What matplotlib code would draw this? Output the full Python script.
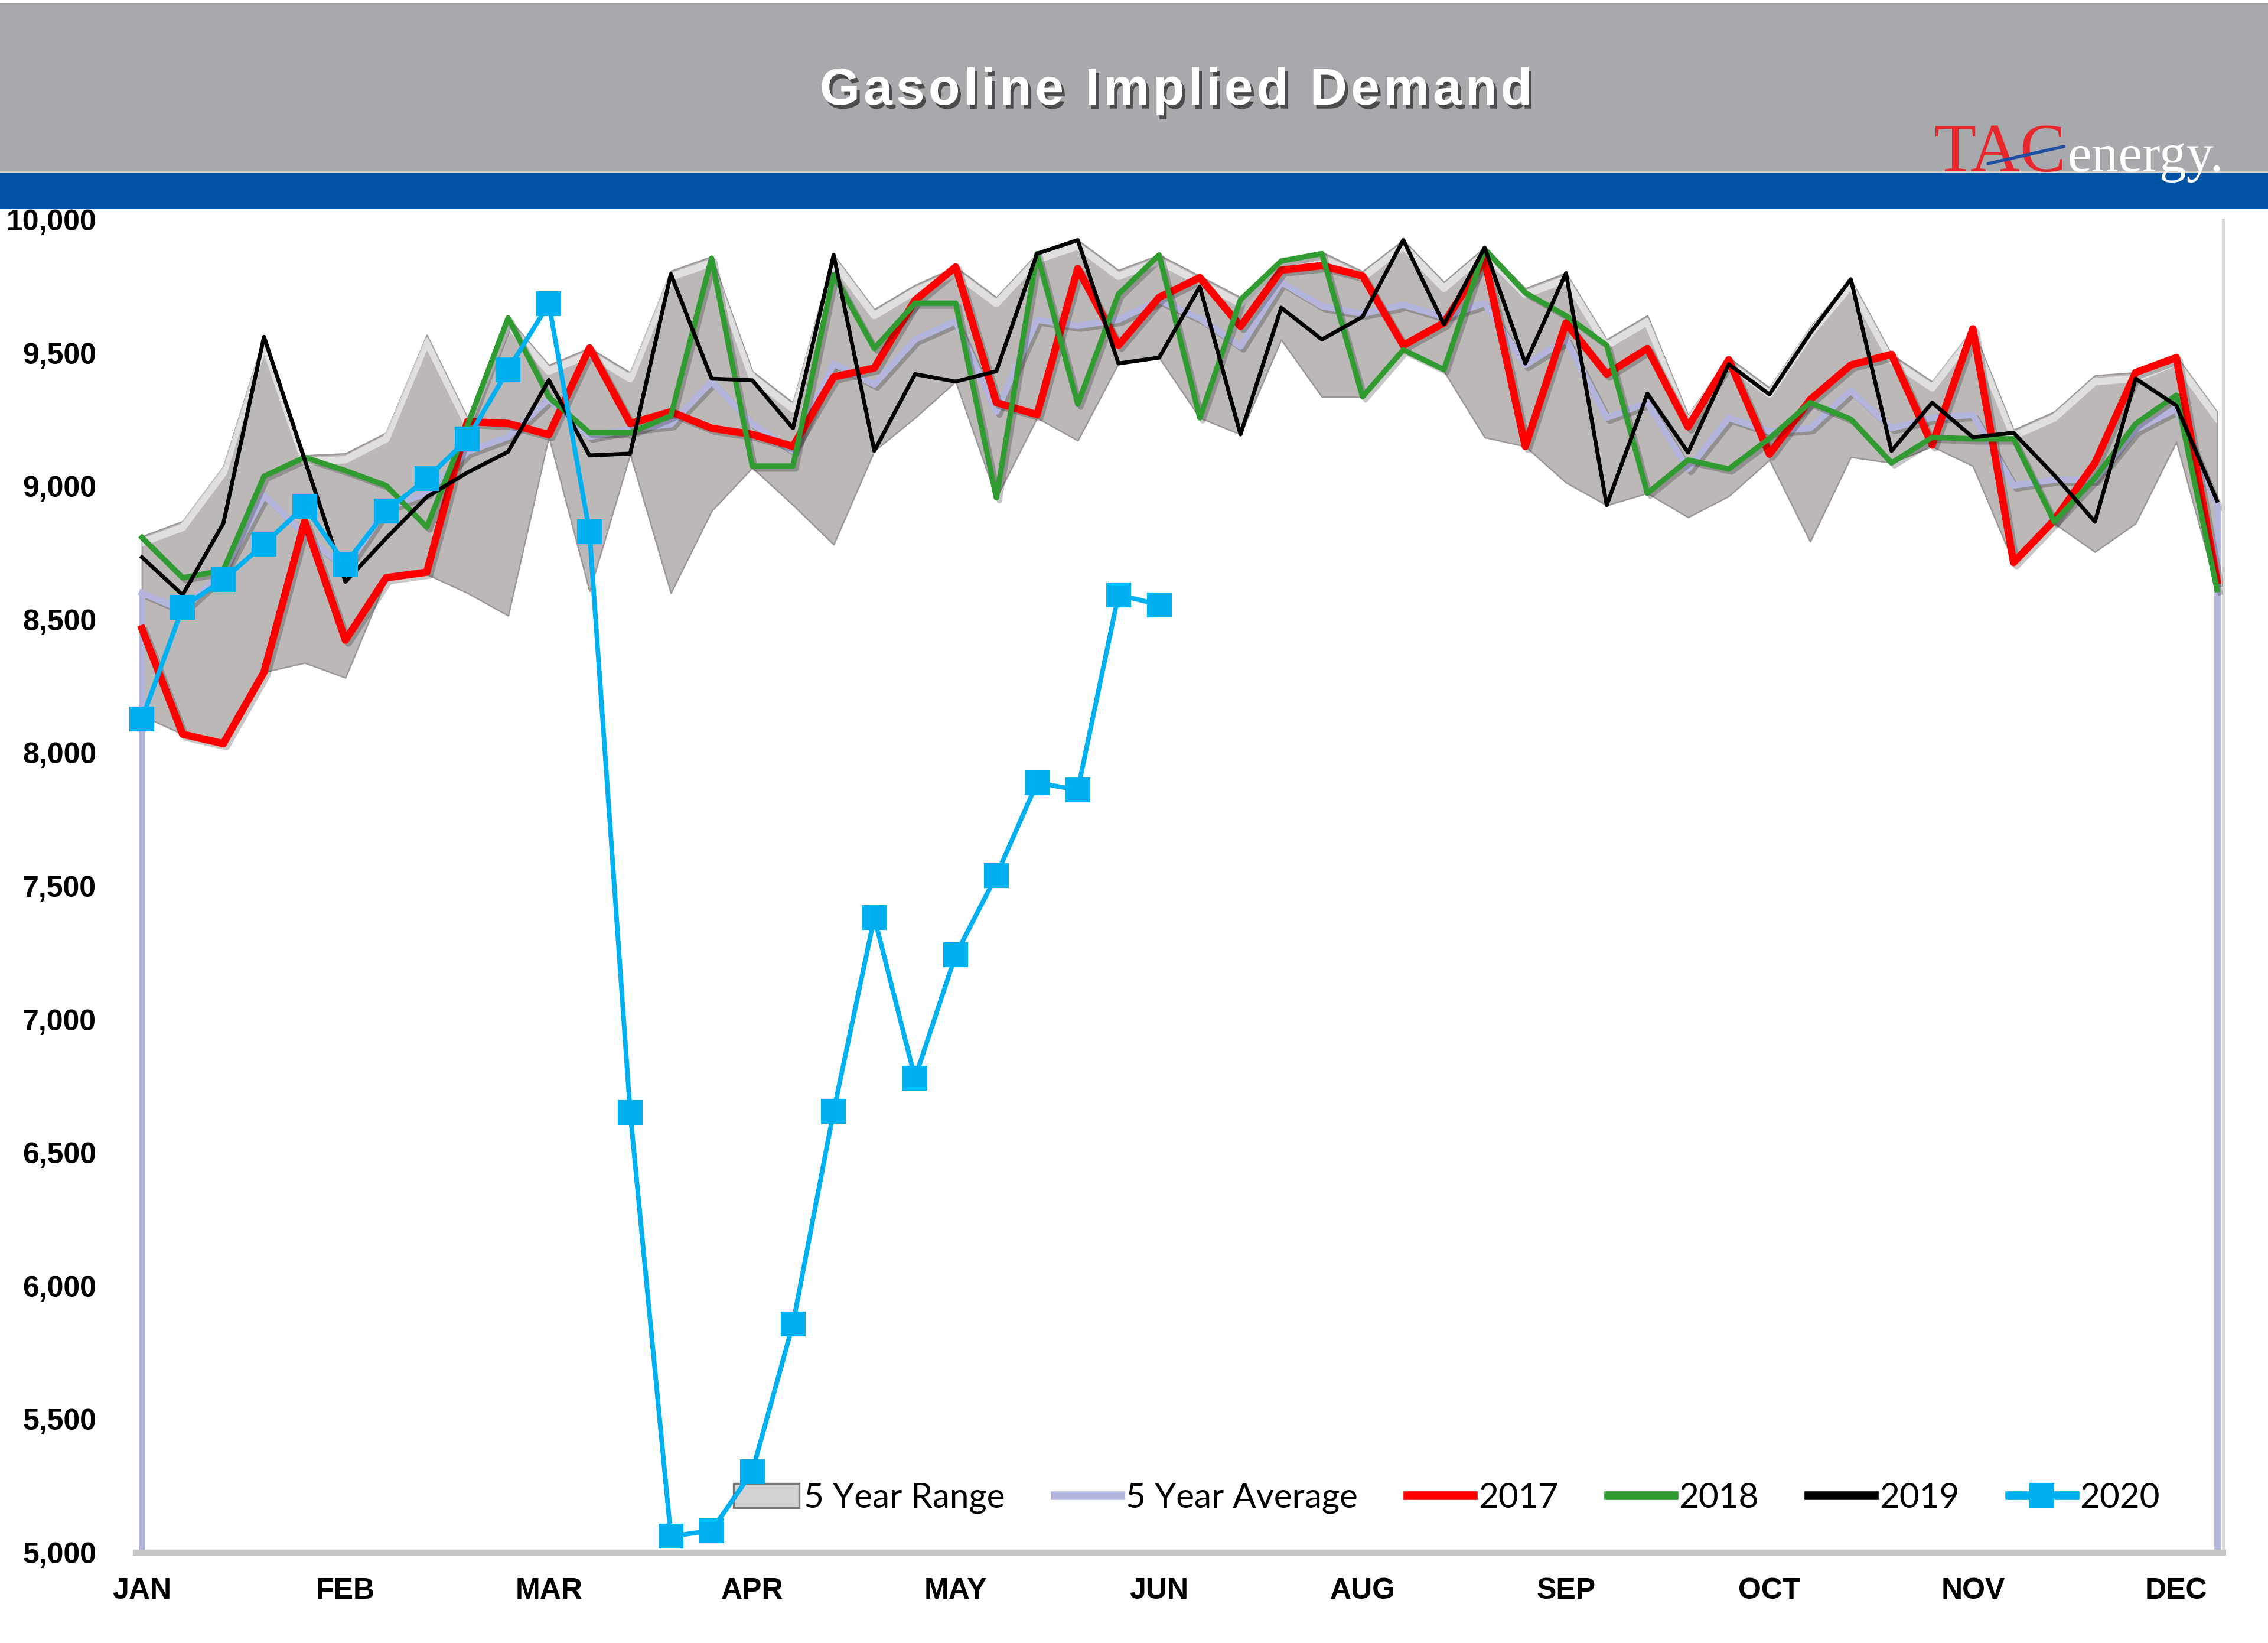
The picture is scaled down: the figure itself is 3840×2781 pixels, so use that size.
import matplotlib
matplotlib.use("Agg")
import matplotlib.pyplot as plt
import matplotlib.patheffects as pe
import matplotlib.transforms as mtransforms
from matplotlib import font_manager
from matplotlib.ft2font import FT2Font
from matplotlib.patches import Rectangle, Patch
from matplotlib.lines import Line2D
import numpy as np

# weekly implied demand, kb/d, week 0 = first week of January
month_labels = ["JAN", "FEB", "MAR", "APR", "MAY", "JUN", "AUG", "SEP", "OCT", "NOV", "DEC"]

range_high = [8812, 8869, 9074, 9561, 9116, 9123, 9201, 9568, 9257, 9632, 9455, 9519, 9427,
              9808, 9862, 9432, 9314, 9868, 9664, 9755, 9823, 9709, 9873, 9924, 9811, 9868,
              9789, 9709, 9845, 9879, 9806, 9924, 9766, 9896, 9743, 9800, 9551, 9641, 9268,
              9483, 9370, 9596, 9777, 9495, 9393, 9591, 9212, 9280, 9416, 9427, 9489, 9280]
range_low = [8140, 8070, 8035, 8303, 8338, 8282, 8650, 8670, 8600, 8515, 9186, 8607, 9120,
             8600, 8907, 9070, 8930, 8782, 9133, 9257, 9393, 8957, 9257, 9172, 9461, 9483,
             9257, 9195, 9550, 9336, 9336, 9506, 9432, 9184, 9150, 9014, 8929, 8974, 8884,
             8963, 9099, 8793, 9110, 9088, 9150, 9076, 8714, 8861, 8754, 8861, 9167, 8613]
avg_5yr = [8600, 8536, 8678, 8967, 8819, 8692, 8918, 8975, 9130, 9186, 9328, 9186, 9215,
           9233, 9393, 9235, 9133, 9461, 9382, 9551, 9619, 9280, 9625, 9602, 9625, 9698,
           9630, 9525, 9766, 9676, 9647, 9681, 9636, 9687, 9455, 9551, 9257, 9314, 9065,
           9257, 9206, 9218, 9359, 9218, 9257, 9268, 9003, 9025, 9025, 9212, 9291, 8929]
y2017 = [8466, 8070, 8035, 8303, 8868, 8423, 8657, 8678, 9243, 9236, 9194, 9519, 9236,
         9280, 9218, 9195, 9150, 9410, 9444, 9698, 9823, 9314, 9269, 9817, 9529, 9709,
         9783, 9600, 9811, 9828, 9789, 9529, 9613, 9851, 9150, 9613, 9421, 9517, 9223,
         9475, 9121, 9325, 9455, 9495, 9155, 9591, 8714, 8873, 9088, 9427, 9483, 8647]
y2018 = [8808, 8657, 8685, 9038, 9109, 9059, 9003, 8847, 9229, 9632, 9335, 9201, 9201,
         9265, 9856, 9076, 9076, 9794, 9517, 9687, 9687, 8957, 9873, 9308, 9721, 9868,
         9257, 9700, 9845, 9873, 9336, 9512, 9438, 9890, 9726, 9640, 9529, 8974, 9099,
         9065, 9180, 9314, 9252, 9088, 9184, 9178, 9178, 8867, 9031, 9235, 9342, 8613]
y2019 = [8734, 8593, 8861, 9561, 9100, 8642, 8805, 8960, 9052, 9130, 9399, 9116, 9123,
         9797, 9404, 9398, 9218, 9868, 9133, 9421, 9393, 9432, 9873, 9924, 9461, 9483,
         9749, 9195, 9670, 9551, 9636, 9924, 9608, 9896, 9461, 9800, 8929, 9348, 9127,
         9458, 9345, 9574, 9777, 9133, 9314, 9184, 9201, 9042, 8867, 9404, 9303, 8946]
y2020 = [8127, 8546, 8650, 8783, 8925, 8708, 8907, 9029, 9177, 9438, 9685, 8830, 6651,
         5061, 5083, 5304, 5858, 6656, 7383, 6780, 7243, 7540, 7888, 7861, 8593, 8556]

weeks = np.arange(len(avg_5yr))
weeks_2020 = np.arange(len(y2020))

W, H = 3840, 2781
DPI = 300
fig = plt.figure(figsize=(W / DPI, H / DPI), dpi=DPI)
fig.patch.set_facecolor("white")

# banner
fig.patches.append(Rectangle((0, 1 - 290 / H), 1, (290 - 5) / H, transform=fig.transFigure,
                             facecolor="#a7a9ac", edgecolor="none", zorder=1))
fig.patches.append(Rectangle((0, 1 - 354 / H), 1, 64 / H, transform=fig.transFigure,
                             facecolor="#0053a3", edgecolor="none", zorder=1))
fig.lines.append(Line2D([0, 1], [1 - 290 / H] * 2, transform=fig.transFigure,
                        color="#d9d2c8", lw=0.8, zorder=2))


def spaced_title(text, center_x, baseline_y, size, spacing_px):
    # excel style letter spacing: place every glyph on its own
    prop = font_manager.FontProperties(family="Liberation Sans", weight="bold", size=size)
    ft = FT2Font(font_manager.findfont(prop))
    ft.set_size(size, DPI)
    adv = [ft.load_char(ord(c)).linearHoriAdvance / 65536 for c in text]
    total = sum(adv) + spacing_px * (len(text) - 1)
    x = center_x - total / 2
    shadow = [pe.withSimplePatchShadow(offset=(1.2, -1.6), shadow_rgbFace="#3c3c3c", alpha=0.85)]
    for c, a in zip(text, adv):
        if c != " ":
            fig.text(x / W, baseline_y, c, fontproperties=prop, color="white", ha="left",
                     va="baseline", zorder=3, path_effects=shadow)
        x += a + spacing_px


spaced_title("Gasoline Implied Demand", 1991, 1 - 177 / H, 21, 6.2)

# logo
fig.text(3275 / W, 1 - 290 / H, "TAC", color="#e8262b", fontsize=28, family="Liberation Serif",
         ha="left", va="baseline", zorder=3)
fig.text(3500 / W, 1 - 290 / H, "energy.", color="white", fontsize=22, family="Liberation Serif",
         ha="left", va="baseline", zorder=3)
fig.lines.append(Line2D([3366 / W, 3494 / W], [1 - 277 / H, 1 - 248 / H], transform=fig.transFigure,
                        color="#1f4fa3", lw=1.3, solid_capstyle="round", zorder=4))

ax = fig.add_axes([230 / W, 153 / H, 3534 / W, 2256 / H])
ax.set_facecolor("white")

band = ax.fill_between(weeks, range_low, range_high, facecolor="#bcb8b8", edgecolor="#9c9898",
                       linewidth=0.6, zorder=1)
# light bevel just under the top of the band
shift = mtransforms.ScaledTranslation(0, -2.5 / 72, fig.dpi_scale_trans)
bevel, = ax.plot(weeks, range_high, color="white", lw=3, alpha=0.55, zorder=1.5,
                 transform=ax.transData + shift)
bevel.set_clip_path(band.get_paths()[0], ax.transData)

shadow = [pe.SimpleLineShadow(offset=(1.2, -1.2), alpha=0.22), pe.Normal()]

ax.plot(weeks, avg_5yr, color="#b4b5dd", lw=2.6, zorder=2, path_effects=shadow)
ax.vlines([weeks[0], weeks[-1]], 5000, [avg_5yr[0], avg_5yr[-1]], color="#b4b5dd", lw=2.6, zorder=2)
ax.plot(weeks, y2017, color="#ff0000", lw=3.0, zorder=3, path_effects=shadow)
ax.plot(weeks, y2018, color="#2f9b30", lw=2.2, zorder=4, path_effects=shadow)
ax.plot(weeks, y2019, color="black", lw=1.6, zorder=5)
ax.plot(weeks_2020, y2020, color="#00b0f0", lw=1.9, marker="s", ms=9, zorder=6, clip_on=False)

ax.set_xlim(-0.15, 51.15)
ax.set_ylim(5000, 10000)
ax.set_xticks(np.arange(0, len(weeks), 5))
ax.set_xticklabels(month_labels)
ax.set_yticks(np.arange(5000, 10001, 500))
ax.set_yticklabels([f"{v:,}" for v in range(5000, 10001, 500)])
for lab in ax.get_xticklabels() + ax.get_yticklabels():
    lab.set_fontweight("bold")
    lab.set_family("Liberation Sans")
    lab.set_fontsize(12)
ax.tick_params(axis="both", length=0)
ax.tick_params(axis="y", pad=16)
ax.tick_params(axis="x", pad=10)

for side in ["left", "top"]:
    ax.spines[side].set_visible(False)
ax.spines["bottom"].set_color("#c6c6c6")
ax.spines["bottom"].set_linewidth(2.5)
ax.spines["right"].set_color("#d4d4d4")
ax.spines["right"].set_linewidth(1.2)

handles = [
    Patch(facecolor="#d3d1d1", edgecolor="#7a7a7a", linewidth=0.8),
    Line2D([], [], color="#b4b5dd", lw=3.5),
    Line2D([], [], color="#ff0000", lw=3.5),
    Line2D([], [], color="#2f9b30", lw=3.5),
    Line2D([], [], color="black", lw=3.5),
    Line2D([], [], color="#00b0f0", lw=3.5, marker="s", ms=9),
]
labels = ["5 Year Range", "5 Year Average", "2017", "2018", "2019", "2020"]
ax.legend(handles, labels, loc="center", bbox_to_anchor=(0.628, 0.041), ncol=6, frameon=False,
          prop={"family": "Lato", "size": 14}, handlelength=1.9, handletextpad=0.15,
          columnspacing=1.45)

fig.savefig("out.png", dpi=DPI)
